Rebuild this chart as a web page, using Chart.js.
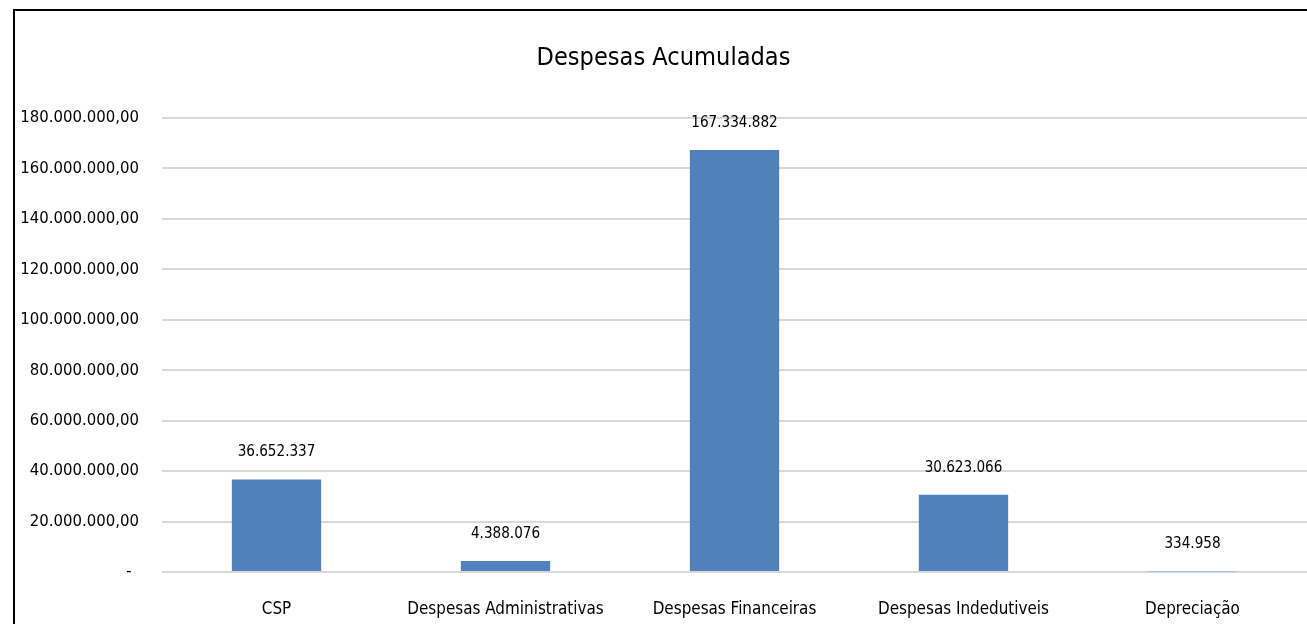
<!DOCTYPE html>
<html>
<head>
<meta charset="utf-8">
<script src="https://cdn.jsdelivr.net/npm/chart.js@4.4.1/dist/chart.umd.min.js"></script>
<style>
  html, body { margin: 0; padding: 0; background: #fff; }
  body { width: 1307px; height: 624px; position: relative; overflow: hidden; }
  #frame {
    position: absolute; left: 13px; top: 9px; width: 1300px; height: 700px;
    border-left: 2px solid #000; border-top: 2px solid #000;
  }
  #wrap { position: absolute; left: 0; top: 0; width: 1307px; height: 624px; }
</style>
</head>
<body>
<div id="frame"></div>
<div id="wrap"><canvas id="chart"></canvas></div>
<script>
const categories = ["CSP", "Despesas Administrativas", "Despesas Financeiras", "Despesas Indedutiveis", "Depreciação"];
const values = [36652337, 4388076, 167334882, 30623066, 334958];
const yTicks = [0, 20000000, 40000000, 60000000, 80000000, 100000000, 120000000, 140000000, 160000000, 180000000];

// pick a narrow font that is really installed
const probe = document.createElement("canvas").getContext("2d");
function textW(font, txt) { probe.font = font; return probe.measureText(txt).width; }
const SAMPLE = "180.000.000,00";
const candidates = [
  { family: "'Liberation Sans Narrow'", stretch: "" },
  { family: "'Arial Narrow'", stretch: "" },
  { family: "'DejaVu Sans Condensed'", stretch: "" },
  { family: "'DejaVu Sans'", stretch: "condensed" },
  { family: "'Liberation Sans'", stretch: "" }
];
let pick = candidates[candidates.length - 1];
for (const c of candidates) {
  const w1 = textW((c.stretch ? c.stretch + " " : "") + "40px " + c.family + ", monospace", SAMPLE);
  const w2 = textW((c.stretch ? c.stretch + " " : "") + "40px " + c.family + ", serif", SAMPLE);
  if (Math.abs(w1 - w2) < 0.5) {
    if (c.stretch) {
      const plain = textW("40px " + c.family, SAMPLE);
      if (Math.abs(plain - w1) < 0.5) continue;
    }
    pick = c;
    break;
  }
}
const FONT = pick.family + ", sans-serif";
const WEIGHT = pick.stretch ? "normal " + pick.stretch : "normal";

// size each text so its width matches the reference
function sizeFor(txt, targetW) {
  const w = textW(WEIGHT + " 100px " + FONT, txt);
  return Math.round(100 * targetW / w * 10) / 10;
}
const tickSize = sizeFor(SAMPLE, 119);
const titleSize = sizeFor("Despesas Acumuladas", 254);
const labelSize = sizeFor("36.652.337", 78);
const catSize = sizeFor("Despesas Administrativas", 197);

function fmtTick(v) {
  if (v === 0) return "-\u2002";
  return v.toLocaleString("de-DE", { minimumFractionDigits: 2, maximumFractionDigits: 2 });
}

function fmtLabel(v) {
  return v.toLocaleString("de-DE", { maximumFractionDigits: 0 });
}

// value labels above each bar
const barLabels = {
  id: "barLabels",
  afterDatasetsDraw(chart) {
    const ctx = chart.ctx;
    const meta = chart.getDatasetMeta(0);
    ctx.save();
    ctx.font = WEIGHT + " " + labelSize + "px " + FONT;
    ctx.fillStyle = "#000";
    ctx.textAlign = "center";
    ctx.textBaseline = "middle";
    meta.data.forEach((bar, i) => {
      ctx.fillText(fmtLabel(values[i]), bar.x, bar.y - 27);
    });
    ctx.restore();
  }
};

new Chart(document.getElementById("chart"), {
  type: "bar",
  data: {
    labels: categories,
    datasets: [{
      data: values,
      backgroundColor: "#4F81BD",
      borderWidth: 0,
      categoryPercentage: 1,
      barPercentage: 0.39
    }]
  },
  options: {
    responsive: true,
    maintainAspectRatio: false,
    animation: false,
    layout: { padding: { left: 20 } },
    plugins: {
      legend: { display: false },
      tooltip: { enabled: false },
      title: {
        display: true,
        text: "Despesas Acumuladas",
        color: "#000",
        font: { family: FONT, size: titleSize, weight: WEIGHT },
        padding: { top: 58 - titleSize * 0.6, bottom: 118 - 58 - titleSize * 0.6 }
      }
    },
    scales: {
      x: {
        grid: { display: false, drawTicks: false },
        border: { display: false },
        ticks: {
          color: "#000",
          font: { family: FONT, size: catSize, weight: WEIGHT },
          padding: 38 - catSize * 0.6,
          maxRotation: 0,
          autoSkip: false
        },
        afterFit(scale) { scale.height = 52; }
      },
      y: {
        min: 0,
        max: 180000000,
        afterBuildTicks(scale) { scale.ticks = yTicks.map(v => ({ value: v })); },
        grid: { color: "#D9D9D9", lineWidth: 2, drawTicks: false },
        border: { display: false },
        ticks: {
          color: "#000",
          font: { family: FONT, size: tickSize, weight: WEIGHT },
          padding: 23,
          callback: v => fmtTick(v)
        },
        afterFit(scale) { scale.width = 142; }
      }
    }
  },
  plugins: [barLabels]
});
</script>
</body>
</html>
